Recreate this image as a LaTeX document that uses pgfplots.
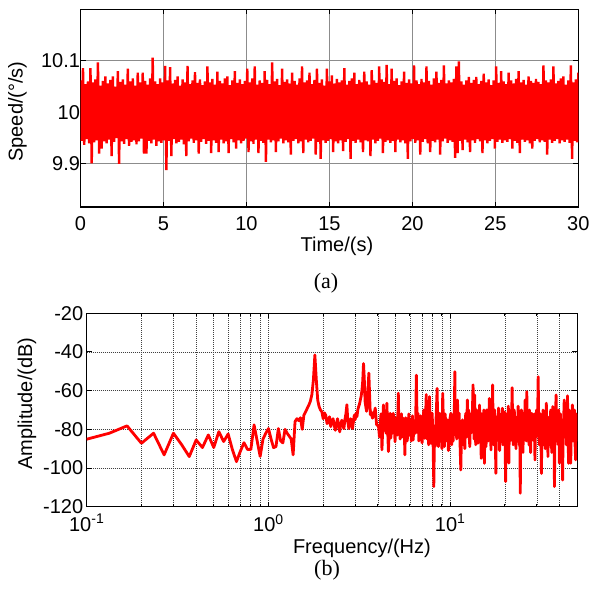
\documentclass[border=0pt]{standalone}
\usepackage{pgfplots}
\pgfplotsset{compat=1.18}
\usepackage{pgfplotstable}
\usepackage{fontspec}
\setmainfont{Liberation Sans}
\newfontfamily\timesfont{Liberation Serif}

% speed signal: swing between the top and bottom of the band, read every 0.075 s
\pgfplotstableread{
t v
0.000 10.062
0.075 9.945
0.150 10.086
0.225 9.937
0.300 10.055
0.375 9.948
0.450 10.060
0.525 9.940
0.600 10.086
0.675 9.901
0.750 10.058
0.825 9.942
0.900 10.064
0.975 9.946
1.050 10.097
1.125 9.920
1.200 10.052
1.275 9.930
1.350 10.061
1.425 9.944
1.500 10.070
1.575 9.940
1.650 10.056
1.725 9.947
1.800 10.063
1.875 9.915
1.950 10.070
2.025 9.943
2.100 10.050
2.175 9.950
2.250 10.080
2.325 9.900
2.400 10.059
2.475 9.944
2.550 10.064
2.625 9.939
2.700 10.054
2.775 9.948
2.850 10.085
2.925 9.935
3.000 10.060
3.075 9.943
3.150 10.066
3.225 9.946
3.300 10.052
3.375 9.938
3.450 10.077
3.525 9.944
3.600 10.058
3.675 9.949
3.750 10.077
3.825 9.920
3.900 10.061
3.975 9.920
4.050 10.054
4.125 9.945
4.200 10.066
4.275 9.940
4.350 10.106
4.425 9.947
4.500 10.060
4.575 9.935
4.650 10.055
4.725 9.944
4.800 10.066
4.875 9.941
4.950 10.058
5.025 9.946
5.100 10.090
5.175 9.888
5.250 10.062
5.325 9.945
5.400 10.088
5.475 9.915
5.550 10.056
5.625 9.948
5.700 10.063
5.775 9.940
5.850 10.070
5.925 9.943
6.000 10.052
6.075 9.947
6.150 10.064
6.225 9.938
6.300 10.058
6.375 9.915
6.450 10.090
6.525 9.944
6.600 10.055
6.675 9.949
6.750 10.062
6.825 9.941
6.900 10.078
6.975 9.946
7.050 10.057
7.125 9.920
7.200 10.064
7.275 9.943
7.350 10.053
7.425 9.948
7.500 10.060
7.575 9.939
7.650 10.089
7.725 9.945
7.800 10.058
7.875 9.921
7.950 10.065
8.025 9.946
8.100 10.054
8.175 9.941
8.250 10.079
8.325 9.923
8.400 10.061
8.475 9.947
8.550 10.056
8.625 9.940
8.700 10.066
8.775 9.944
8.850 10.070
8.925 9.921
9.000 10.053
9.075 9.948
9.150 10.062
9.225 9.942
9.300 10.080
9.375 9.930
9.450 10.057
9.525 9.946
9.600 10.064
9.675 9.940
9.750 10.055
9.825 9.945
9.900 10.061
9.975 9.949
10.050 10.085
10.125 9.923
10.200 10.058
10.275 9.944
10.350 10.066
10.425 9.939
10.500 10.089
10.575 9.947
10.650 10.054
10.725 9.921
10.800 10.062
10.875 9.945
10.950 10.057
11.025 9.941
11.100 10.080
11.175 9.904
11.250 10.063
11.325 9.947
11.400 10.055
11.475 9.942
11.550 10.097
11.625 9.946
11.700 10.060
11.775 9.923
11.850 10.065
11.925 9.944
12.000 10.053
12.075 9.949
12.150 10.085
12.225 9.940
12.300 10.059
12.375 9.946
12.450 10.064
12.525 9.942
12.600 10.056
12.675 9.918
12.750 10.077
12.825 9.945
12.900 10.061
12.975 9.948
13.050 10.054
13.125 9.940
13.200 10.066
13.275 9.944
13.350 10.089
13.425 9.921
13.500 10.058
13.575 9.947
13.650 10.062
13.725 9.942
13.800 10.077
13.875 9.945
13.950 10.055
14.025 9.949
14.100 10.063
14.175 9.918
14.250 10.085
14.325 9.943
14.400 10.057
14.475 9.910
14.550 10.064
14.625 9.946
14.700 10.052
14.775 9.941
14.850 10.085
14.925 9.945
15.000 10.060
15.075 9.948
15.150 10.072
15.225 9.923
15.300 10.056
15.375 9.944
15.450 10.065
15.525 9.940
15.600 10.058
15.675 9.946
15.750 10.062
15.825 9.925
15.900 10.086
15.975 9.943
16.050 10.054
16.125 9.948
16.200 10.061
16.275 9.910
16.350 10.066
16.425 9.945
16.500 10.077
16.575 9.941
16.650 10.055
16.725 9.947
16.800 10.063
16.875 9.942
16.950 10.058
17.025 9.923
17.100 10.079
17.175 9.946
17.250 10.060
17.325 9.944
17.400 10.054
17.475 9.915
17.550 10.082
17.625 9.947
17.700 10.062
17.775 9.940
17.850 10.057
17.925 9.945
18.000 10.089
18.075 9.949
18.150 10.064
18.225 9.921
18.300 10.059
18.375 9.943
18.450 10.092
18.525 9.946
18.600 10.055
18.675 9.941
18.750 10.085
18.825 9.945
18.900 10.061
18.975 9.923
19.050 10.066
19.125 9.947
19.200 10.053
19.275 9.942
19.350 10.060
19.425 9.946
19.500 10.079
19.575 9.940
19.650 10.057
19.725 9.910
19.800 10.064
19.875 9.944
19.950 10.056
20.025 9.948
20.100 10.091
20.175 9.941
20.250 10.062
20.325 9.946
20.400 10.055
20.475 9.918
20.550 10.065
20.625 9.943
20.700 10.058
20.775 9.948
20.850 10.089
20.925 9.940
21.000 10.061
21.075 9.923
21.150 10.054
21.225 9.945
21.300 10.066
21.375 9.942
21.450 10.079
21.525 9.947
21.600 10.057
21.675 9.918
21.750 10.063
21.825 9.944
21.900 10.091
21.975 9.949
22.050 10.056
22.125 9.941
22.200 10.062
22.275 9.946
22.350 10.058
22.425 9.943
22.500 10.065
22.575 9.912
22.650 10.089
22.725 9.921
22.800 10.099
22.875 9.945
22.950 10.060
23.025 9.927
23.100 10.054
23.175 9.947
23.250 10.062
23.325 9.942
23.400 10.069
23.475 9.923
23.550 10.057
23.625 9.946
23.700 10.063
23.775 9.941
23.850 10.069
23.925 9.948
24.000 10.055
24.075 9.944
24.150 10.061
24.225 9.921
24.300 10.075
24.375 9.946
24.450 10.058
24.525 9.940
24.600 10.064
24.675 9.945
24.750 10.053
24.825 9.948
24.900 10.062
24.975 9.930
25.050 10.089
25.125 9.943
25.200 10.057
25.275 9.947
25.350 10.080
25.425 9.941
25.500 10.060
25.575 9.946
25.650 10.055
25.725 9.943
25.800 10.077
25.875 9.948
25.950 10.062
26.025 9.930
26.100 10.056
26.175 9.945
26.250 10.065
26.325 9.941
26.400 10.080
26.475 9.921
26.550 10.058
26.625 9.947
26.700 10.063
26.775 9.943
26.850 10.054
26.925 9.946
27.000 10.070
27.075 9.940
27.150 10.061
27.225 9.930
27.300 10.057
27.375 9.945
27.450 10.065
27.525 9.948
27.600 10.059
27.675 9.942
27.750 10.055
27.825 9.946
27.900 10.091
27.975 9.943
28.050 10.062
28.125 9.918
28.200 10.058
28.275 9.947
28.350 10.064
28.425 9.941
28.500 10.089
28.575 9.945
28.650 10.056
28.725 9.948
28.800 10.061
28.875 9.940
28.950 10.066
29.025 9.946
29.100 10.070
29.175 9.943
29.250 10.054
29.325 9.947
29.400 10.062
29.475 9.941
29.550 10.091
29.625 9.910
29.700 10.058
29.775 9.945
29.850 10.064
29.925 9.942
30.000 10.077
}\speed

% amplitude spectrum
\pgfplotstableread{
f db
0.1000 -85.1
0.1333 -82.0
0.1667 -78.2
0.2000 -87.2
0.2333 -82.0
0.2667 -93.2
0.3000 -82.0
0.3333 -88.0
0.3667 -94.1
0.4000 -85.5
0.4333 -89.4
0.4667 -82.9
0.5000 -89.4
0.5333 -81.2
0.5667 -86.3
0.6000 -82.4
0.6333 -90.5
0.6667 -96.7
0.7000 -91.4
0.7333 -86.9
0.7667 -90.4
0.8000 -90.4
0.8333 -77.7
0.8667 -86.0
0.9000 -94.0
0.9333 -85.0
0.9667 -82.0
1.0000 -79.6
1.0333 -85.0
1.0667 -89.5
1.1000 -88.9
1.1333 -79.6
1.1667 -86.0
1.2000 -87.0
1.2333 -80.0
1.2667 -82.0
1.3000 -83.5
1.3333 -85.0
1.3667 -93.2
1.4000 -76.0
1.4333 -74.5
1.4667 -75.5
1.5000 -74.0
1.5333 -80.0
1.5667 -72.6
1.6000 -71.0
1.6333 -69.2
1.6667 -67.5
1.7000 -65.5
1.7333 -62.0
1.7667 -54.4
1.8000 -41.5
1.8333 -54.5
1.8667 -65.0
1.9000 -68.3
1.9333 -70.0
1.9667 -70.9
2.0000 -74.5
2.0333 -71.5
2.0667 -72.8
2.1000 -77.0
2.1333 -76.3
2.1667 -73.5
2.2000 -78.6
2.2333 -76.0
2.2667 -74.5
2.3000 -78.0
2.3333 -80.5
2.3667 -77.0
2.4000 -74.5
2.4333 -78.5
2.4667 -81.3
2.5000 -77.0
2.5333 -75.3
2.5667 -78.0
2.6000 -79.6
2.6333 -75.0
2.6667 -72.0
2.7000 -67.3
2.7333 -76.0
2.7667 -79.6
2.8000 -77.0
2.8333 -74.5
2.8667 -77.5
2.9000 -79.6
2.9333 -76.0
2.9667 -72.6
3.0000 -75.0
3.0333 -71.7
3.0667 -73.5
3.1000 -70.0
3.1333 -68.3
3.1667 -67.0
3.2000 -65.0
3.2333 -63.0
3.2667 -60.0
3.3000 -55.0
3.3333 -46.0
3.3667 -54.0
3.4000 -65.6
3.4333 -68.5
3.4667 -70.7
3.5000 -66.0
3.5333 -58.0
3.5667 -50.9
3.6000 -62.0
3.6333 -72.4
3.6667 -70.8
3.7333 -74.2
3.8000 -72.6
3.8667 -69.0
3.9333 -77.5
4.0333 -78.6
4.0800 -84.0
4.1200 -76.9
4.1600 -72.0
4.2100 -90.6
4.2500 -80.0
4.2900 -67.4
4.3300 -78.0
4.3800 -71.7
4.4300 -82.0
4.4800 -66.5
4.5200 -78.5
4.5700 -91.5
4.6200 -80.0
4.6700 -71.7
4.7100 -84.5
4.7600 -75.1
4.8100 -82.0
4.8600 -71.7
4.9200 -78.0
4.9700 -86.4
5.0200 -74.0
5.0700 -76.9
5.1200 -83.0
5.1800 -61.3
5.2200 -80.0
5.2500 -75.1
5.3000 -85.0
5.3500 -77.7
5.3900 -72.0
5.4300 -84.0
5.4700 -74.0
5.5100 -80.3
5.5700 -76.0
5.6300 -93.2
5.6800 -74.0
5.7400 -76.0
5.8000 -86.0
5.8700 -77.7
5.9200 -72.0
5.9700 -83.0
6.0200 -79.0
6.0700 -75.2
6.1100 -86.0
6.1600 -80.0
6.2000 -73.0
6.2500 -85.5
6.3100 -79.0
6.3800 -76.9
6.4400 -82.0
6.5100 -52.0
6.5800 -80.0
6.6500 -71.7
6.7200 -86.0
6.7900 -78.6
6.8600 -73.0
6.9300 -80.3
7.0000 -87.0
7.0800 -75.1
7.1500 -70.0
7.2300 -84.6
7.3000 -76.0
7.3800 -62.0
7.4500 -85.0
7.5300 -78.6
7.6100 -88.0
7.6900 -63.1
7.7700 -80.0
7.8500 -87.2
7.9000 -76.0
7.9500 -71.7
8.0300 -82.0
8.1200 -109.6
8.1900 -80.0
8.2600 -88.9
8.3600 -74.0
8.4700 -58.8
8.5400 -80.0
8.6100 -88.9
8.6800 -76.0
8.7500 -71.7
8.8200 -85.0
8.9000 -80.3
9.0000 -90.0
9.0900 -61.4
9.1800 -78.0
9.2800 -88.9
9.3700 -72.0
9.4700 -78.6
9.5700 -86.0
9.6700 -75.1
9.7700 -91.0
9.8800 -83.8
9.9800 -74.0
10.080 -71.7
10.190 -88.0
10.300 -80.3
10.380 -86.0
10.450 -76.9
10.530 -70.0
10.600 -50.2
10.670 -80.0
10.730 -70.0
10.850 -85.0
10.960 -64.8
11.080 -82.0
11.190 -71.7
11.310 -86.0
11.430 -101.0
11.550 -78.0
11.670 -75.1
11.790 -88.0
11.910 -80.3
12.030 -90.0
12.160 -71.7
12.290 -84.0
12.420 -64.8
12.490 -80.0
12.55 -78.6
12.64 -70.0
12.72 -84.0
12.81 -89.0
12.90 -76.0
12.99 -82.0
13.08 -71.7
13.17 -80.0
13.26 -68.0
13.35 -57.0
13.44 -76.0
13.53 -85.0
13.62 -62.2
13.72 -80.0
13.81 -88.0
13.91 -75.1
14.00 -70.0
14.10 -82.0
14.20 -87.2
14.30 -74.0
14.39 -79.0
14.49 -67.4
14.59 -84.0
14.70 -76.0
14.80 -95.0
14.90 -72.0
15.00 -82.0
15.11 -76.0
15.21 -88.0
15.31 -70.0
15.42 -97.6
15.53 -74.0
15.63 -81.0
15.74 -89.0
15.85 -70.0
15.96 -78.0
16.07 -72.6
16.18 -86.0
16.30 -77.0
16.41 -64.0
16.52 -80.0
16.63 -74.0
16.75 -90.7
16.87 -73.0
16.98 -83.0
17.10 -57.0
17.22 -78.0
17.34 -88.0
17.46 -76.9
17.58 -70.0
17.70 -84.0
17.82 -102.8
17.94 -77.0
18.07 -86.0
18.19 -73.4
18.32 -82.0
18.44 -69.0
18.57 -78.6
18.70 -91.0
18.83 -75.0
18.96 -85.5
19.09 -72.0
19.22 -80.0
19.36 -69.1
19.49 -88.0
19.62 -76.0
19.75 -82.0
19.89 -71.0
20.03 -86.0
20.17 -107.0
20.30 -78.0
20.44 -84.0
20.58 -71.7
20.72 -80.0
20.87 -68.0
21.01 -97.5
21.16 -75.0
21.30 -86.0
21.45 -80.3
21.60 -70.0
21.75 -76.0
21.90 -58.5
22.05 -79.0
22.21 -88.0
22.36 -84.6
22.51 -70.0
22.67 -81.0
22.82 -73.4
22.98 -90.0
23.14 -78.0
23.30 -76.9
23.46 -84.0
23.62 -68.0
23.79 -75.1
23.95 -88.0
24.12 -80.0
24.28 -113.0
24.45 -76.0
24.62 -70.0
24.79 -85.5
24.96 -78.0
25.13 -92.0
25.30 -71.7
25.47 -82.0
25.65 -76.0
25.83 -64.8
26.01 -80.0
26.19 -86.0
26.37 -60.5
26.55 -82.0
26.73 -74.0
26.92 -76.9
27.10 -88.0
27.29 -70.0
27.48 -83.8
27.67 -92.0
27.86 -76.0
28.05 -71.7
28.24 -84.0
28.44 -78.0
28.64 -75.1
28.84 -86.0
29.04 -72.0
29.24 -95.8
29.44 -78.0
29.64 -84.0
29.84 -70.0
30.05 -80.0
30.25 -74.0
30.46 -52.8
30.67 -76.0
30.88 -88.0
31.10 -85.5
31.31 -72.0
31.52 -80.0
31.74 -102.8
31.96 -78.0
32.18 -86.0
32.41 -70.0
32.63 -88.0
32.86 -74.0
33.08 -80.3
33.31 -90.0
33.54 -77.0
33.77 -66.5
34.01 -82.0
34.24 -75.0
34.48 -94.1
34.72 -76.0
34.95 -84.0
35.19 -73.4
35.44 -88.0
35.68 -70.0
35.93 -82.0
36.18 -92.0
36.42 -76.0
36.67 -68.2
36.93 -84.0
37.18 -78.0
37.44 -109.6
37.70 -80.0
37.96 -72.0
38.22 -62.2
38.48 -86.0
38.75 -77.0
39.01 -76.9
39.28 -88.0
39.56 -70.0
39.83 -97.5
40.10 -78.0
40.38 -72.0
40.66 -83.8
40.94 -76.0
41.22 -90.0
41.51 -106.2
41.79 -80.0
42.08 -74.0
42.37 -64.8
42.66 -84.0
42.96 -78.0
43.25 -73.4
43.55 -88.0
43.85 -80.0
44.16 -62.6
44.48 -85.0
44.80 -97.6
45.08 -70.0
45.39 -84.0
45.70 -78.0
46.02 -97.5
46.33 -76.0
46.66 -85.0
46.98 -67.4
47.30 -86.0
47.62 -74.0
47.95 -80.3
48.28 -70.0
48.61 -88.0
48.95 -95.8
49.29 -72.0
49.63 -84.0
49.97 -75.1
}\spectrum

\begin{document}
\begin{tikzpicture}[x=1pt,y=1pt]
\path[use as bounding box] (0,0) rectangle (591,593);
\pgfplotsset{
  every axis/.append style={
    scale only axis,
    font=\fontsize{20}{24}\selectfont,
    /pgf/number format/assume math mode=true,
    axis line style={line width=1.2pt},
    tick align=inside,
    major tick length=5pt,
    minor tick length=3pt,
    tick style={line width=1pt, black},
  },
}

\begin{axis}[
  at={(80.5pt,386pt)}, anchor=south west,
  width=497.8pt, height=197.7pt,
  xmin=0, xmax=30, ymin=9.8165, ymax=10.2,
  xtick={0,5,...,30}, ytick={9.9,10,10.1},
  grid=major, major grid style={black!45, line width=1pt},
  xticklabel style={yshift=-6pt},
  yticklabel style={xshift=3pt},
  xlabel={Time/(s)},
  xlabel style={at={(axis description cs:0.515,-0.197)}, anchor=center},
  ylabel={Speed/(°/s)},
  ylabel style={at={(axis description cs:-0.1266,0.483)}, anchor=center},
]
\addplot[red, line width=2.4pt, line join=bevel] table[x=t, y=v] {\speed};
\end{axis}

\begin{axis}[
  at={(86.7pt,86.3pt)}, anchor=south west,
  width=490.6pt, height=193.4pt,
  xmode=log, xmin=0.1, xmax=50, ymin=-120, ymax=-20,
  xtick={0.1,1,10},
  xticklabels={10\textsuperscript{-1},10\textsuperscript{0},10\textsuperscript{1}},
  minor xtick={0.2,0.3,0.4,0.5,0.6,0.7,0.8,0.9,2,3,4,5,6,7,8,9,20,30,40},
  ytick={-120,-100,...,-20},
  grid=both,
  major grid style={black!75, dash pattern=on 1pt off 1pt, line width=0.8pt},
  minor grid style={black!75, dash pattern=on 1pt off 1pt, line width=0.8pt},
  xticklabel style={yshift=-4pt},
  xlabel={Frequency/(Hz)},
  xlabel style={at={(axis description cs:0.561,-0.2146)}, anchor=center},
  ylabel={Amplitude/(dB)},
  ylabel style={at={(axis description cs:-0.1217,0.5326)}, anchor=center},
]
\addplot[red, line width=2.8pt, line join=round] table[x=f, y=db] {\spectrum};
\end{axis}

\node[font=\timesfont\fontsize{22}{26}\selectfont] at (326,310) {(a)};
\node[font=\timesfont\fontsize{22}{26}\selectfont] at (327,23) {(b)};
\end{tikzpicture}
\end{document}
